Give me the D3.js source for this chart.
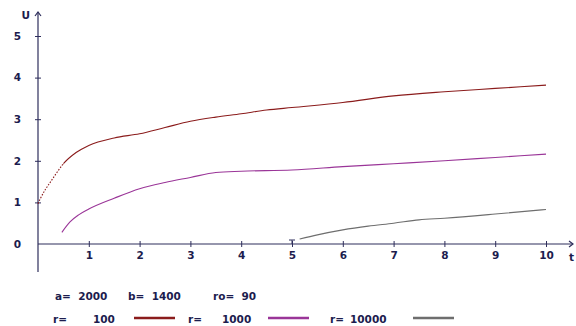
<!DOCTYPE html>
<html>
<head>
<meta charset="utf-8">
<script src="https://cdn.jsdelivr.net/npm/d3@7"></script>
<style>
  body { margin: 0; background: #fff; }
  svg { display: block; }
  text { font-family: "DejaVu Sans", Verdana, sans-serif; font-weight: bold; fill: #1c1c4e; }
</style>
</head>
<body>
<svg id="chart" width="576" height="326"></svg>
<script>
'use strict';

// values
var xTicks = [1, 2, 3, 4, 5, 6, 7, 8, 9, 10];
var yTicks = [0, 1, 2, 3, 4, 5];

var tR100 = [0, 0.05, 0.15, 0.25, 0.35, 0.5, 0.75, 1, 1.5, 2, 2.5, 3, 3.5, 4, 4.5, 5, 6, 7, 8, 9, 10];
var uR100 = [0.97, 1.1, 1.32, 1.5, 1.68, 1.93, 2.2, 2.37, 2.55, 2.65, 2.8, 2.95, 3.05, 3.13, 3.22, 3.28, 3.4, 3.56, 3.66, 3.74, 3.82];

var tR1000 = [0.47, 0.63, 0.8, 1, 1.5, 2, 2.5, 3, 3.5, 4, 5, 6, 7, 8, 9, 10];
var uR1000 = [0.28, 0.53, 0.7, 0.84, 1.1, 1.33, 1.48, 1.6, 1.72, 1.75, 1.78, 1.86, 1.93, 2.0, 2.08, 2.16];

var tR10000 = [5.15, 5.5, 6, 6.5, 7, 7.5, 8, 9, 10];
var uR10000 = [0.12, 0.22, 0.34, 0.43, 0.5, 0.58, 0.62, 0.72, 0.83];

var params = ["a=  2000", "b=  1400", "ro=  90"];
var seriesNames = ["100", "1000", "10000"];
var seriesColors = ["#8b1c1c", "#9a3598", "#6e6e6e"];

var svg = d3.select("#chart");
var axisColor = "#2e2e5c";

var x = d3.scaleLinear().domain([0, 10]).range([38, 546]);
var y = d3.scaleLinear().domain([0, 5]).range([244, 36]);

// axes
var axes = svg.append("g").attr("stroke", axisColor).attr("stroke-width", 1.2);
axes.append("line").attr("x1", x(0)).attr("x2", 573).attr("y1", y(0)).attr("y2", y(0));
axes.append("line").attr("x1", x(0)).attr("x2", x(0)).attr("y1", 272).attr("y2", 12);
// arrow heads
axes.append("path").attr("fill", "none")
	.attr("d", "M569," + (y(0) - 3) + "L573," + y(0) + "L569," + (y(0) + 3));
axes.append("path").attr("fill", "none")
	.attr("d", "M" + (x(0) - 3) + ",16L" + x(0) + ",12L" + (x(0) + 3) + ",16");

var xAxis = svg.append("g")
	.attr("transform", "translate(0," + y(0) + ")")
	.call(d3.axisBottom(x).tickValues(xTicks).tickSize(3).tickPadding(6).tickFormat(d3.format("d")));
xAxis.select(".domain").remove();
xAxis.selectAll(".tick line").attr("y1", -3).attr("y2", 3).attr("stroke", axisColor);
xAxis.selectAll(".tick text").attr("font-size", 10.5).attr("font-family", null).attr("fill", null).attr("dy", "0.55em");

var yAxis = svg.append("g")
	.attr("transform", "translate(" + x(0) + ",0)")
	.call(d3.axisLeft(y).tickValues(yTicks).tickSize(3).tickPadding(14).tickFormat(d3.format("d")));
yAxis.select(".domain").remove();
yAxis.selectAll(".tick line").attr("x1", -3).attr("x2", 3).attr("stroke", axisColor);
yAxis.selectAll(".tick").filter(function(d) { return d === 0; }).select("line").remove();
yAxis.selectAll(".tick text").attr("font-size", 10.5).attr("font-family", null).attr("fill", null);

// axis names
svg.append("text").attr("x", 30).attr("y", 19).attr("font-size", 10.5).attr("text-anchor", "end").text("U");
svg.append("text").attr("x", 569).attr("y", 261).attr("font-size", 10.5).text("t");

// small T marker at t = 5
svg.append("path").attr("fill", "none").attr("stroke", axisColor)
	.attr("d", "M" + (x(5) - 3) + "," + (y(0) - 4) + "H" + (x(5) + 3) + "M" + x(5) + "," + (y(0) - 4) + "V" + y(0));

// clips: the start of the r=100 curve is drawn dotted
var defs = svg.append("defs");
defs.append("clipPath").attr("id", "clipStart").append("rect")
	.attr("x", 0).attr("y", 0).attr("width", x(0.5)).attr("height", 326);
defs.append("clipPath").attr("id", "clipRest").append("rect")
	.attr("x", x(0.5)).attr("y", 0).attr("width", 576).attr("height", 326);

// curves
var line = d3.line()
	.x(function(d) { return x(d[0]); })
	.y(function(d) { return y(d[1]); })
	.curve(d3.curveMonotoneX);

var curves = [
	d3.zip(tR100, uR100),
	d3.zip(tR1000, uR1000),
	d3.zip(tR10000, uR10000)
];

curves.forEach(function(pts, i) {
	var p = svg.append("path")
		.attr("d", line(pts))
		.attr("fill", "none")
		.attr("stroke", seriesColors[i])
		.attr("stroke-width", 1.1);
	if (i === 0) {
		p.attr("clip-path", "url(#clipRest)");
		svg.append("path")
			.attr("d", line(pts))
			.attr("clip-path", "url(#clipStart)")
			.attr("fill", "none").attr("stroke", seriesColors[i]).attr("stroke-width", 1.1)
			.attr("stroke-dasharray", "1.5,1.5");
	}
});

// legend
var legend = svg.append("g").attr("font-size", 10.5);
var paramX = [55, 128, 213];
params.forEach(function(p, i) {
	legend.append("text").attr("x", paramX[i]).attr("y", 300).attr("xml:space", "preserve").text(p);
});

var labelX = [53, 188, 330];
var valueX = [93, 222, 350];
var swatchX = [134, 268, 413];
seriesNames.forEach(function(name, i) {
	legend.append("text").attr("x", labelX[i]).attr("y", 323).text("r=");
	legend.append("text").attr("x", valueX[i]).attr("y", 323).text(name);
	legend.append("line")
		.attr("x1", swatchX[i]).attr("x2", swatchX[i] + 41)
		.attr("y1", 318).attr("y2", 318)
		.attr("stroke", seriesColors[i]).attr("stroke-width", 2.5);
});
</script>
</body>
</html>
